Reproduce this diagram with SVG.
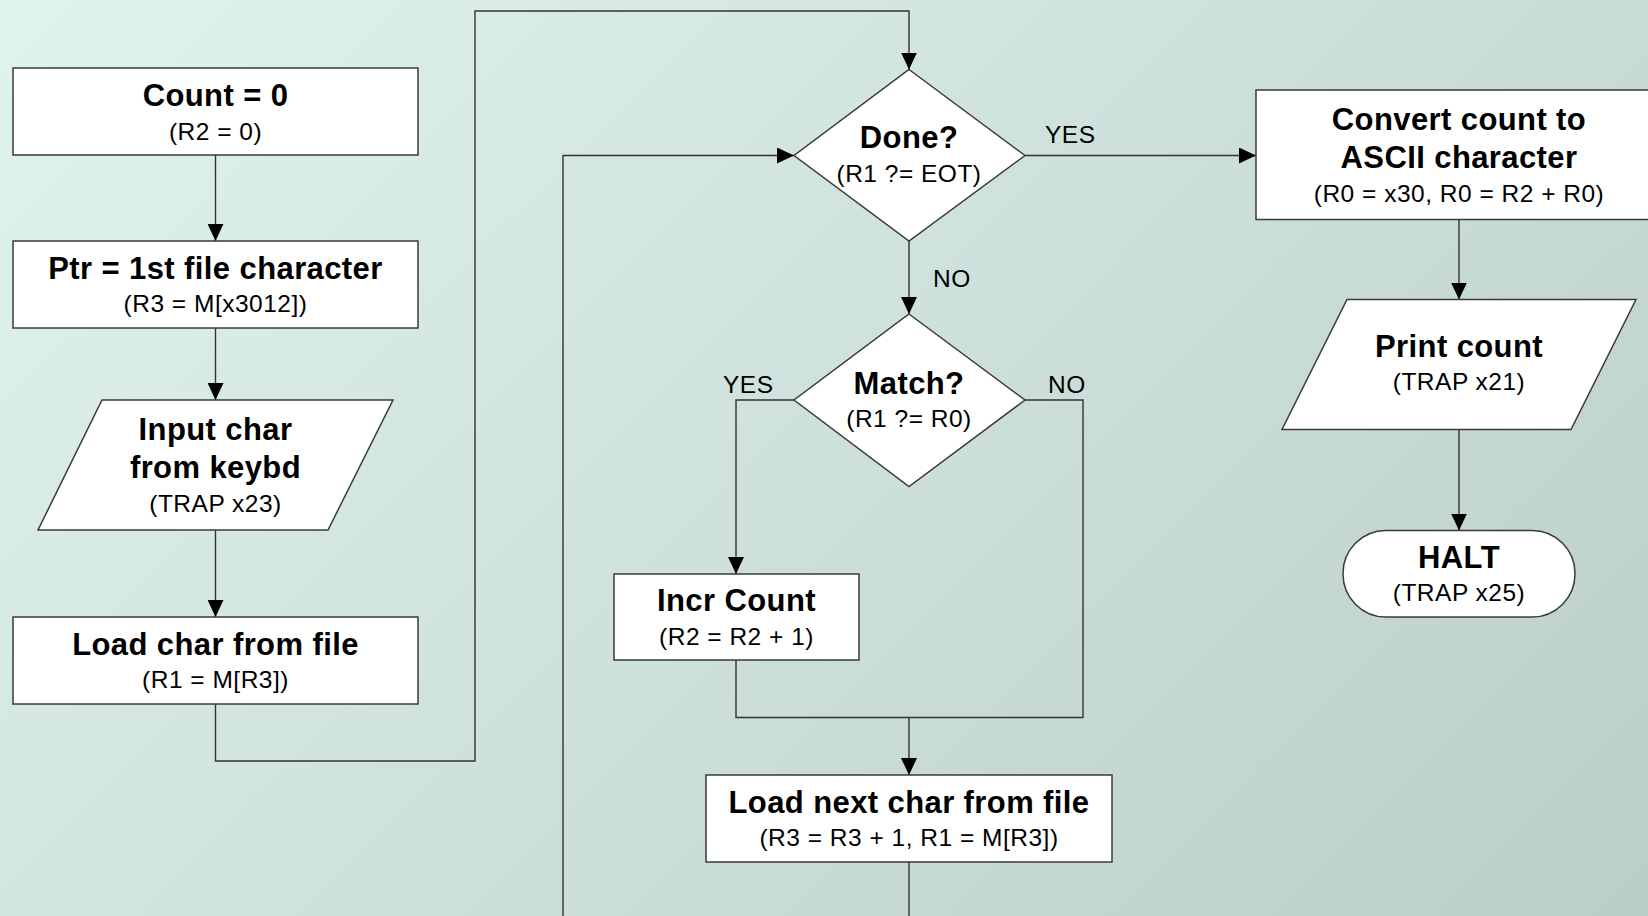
<svg xmlns="http://www.w3.org/2000/svg" width="1648" height="916" viewBox="0 0 1648 916">
  <defs>
    <linearGradient id="bg" gradientUnits="userSpaceOnUse" x1="0" y1="0" x2="1300" y2="1300">
      <stop offset="0" stop-color="#E1F3EF"/>
      <stop offset="1" stop-color="#BACDC8"/>
    </linearGradient>
    <marker id="arrow" viewBox="0 0 17 16" refX="17" refY="8" markerWidth="17" markerHeight="16" markerUnits="userSpaceOnUse" orient="auto">
      <path d="M0,0 L17,8 L0,16 Z" fill="#000"/>
    </marker>
    <style>
      .shape { fill: #FFFFFF; stroke: #3A3A3A; stroke-width: 1.5; }
      .conn { fill: none; stroke: #333333; stroke-width: 1.4; }
      .arr { marker-end: url(#arrow); }
      .title { font-family: "Liberation Sans", Arial, sans-serif; font-weight: bold; font-size: 31px; letter-spacing: 0.4px; fill: #000; text-anchor: middle; }
      .sub { font-family: "Liberation Sans", Arial, sans-serif; font-size: 24.5px; letter-spacing: 0.5px; fill: #000; text-anchor: middle; }
      .lbl { font-family: "Liberation Sans", Arial, sans-serif; font-size: 24.5px; letter-spacing: 0.5px; fill: #000; }
    </style>
  </defs>

  <rect x="0" y="0" width="1648" height="916" fill="url(#bg)"/>

  <!-- connectors -->
  <g id="connectors">
    <path class="conn arr" d="M215.5,155 V241"/>
    <path class="conn arr" d="M215.5,328 V400"/>
    <path class="conn arr" d="M215.5,530 V617"/>
    <path class="conn arr" d="M215.5,704 V761 H475 V11 H909 V69.5"/>
    <path class="conn arr" d="M1025,155.5 H1256"/>
    <path class="conn arr" d="M909,241 V314"/>
    <path class="conn arr" d="M794,400 H736 V574"/>
    <path class="conn" d="M736,660 V717.5 H1083 V400 H1025"/>
    <path class="conn arr" d="M909,717.5 V775"/>
    <path class="conn" d="M909,862 V920"/>
    <path class="conn arr" d="M563,920 V155.5 H794"/>
    <path class="conn arr" d="M1459,219.5 V299.5"/>
    <path class="conn arr" d="M1459,429.5 V530.5"/>
    <text class="lbl" x="1045" y="143">YES</text>
    <text class="lbl" x="933" y="287">NO</text>
    <text class="lbl" x="723" y="393">YES</text>
    <text class="lbl" x="1048" y="393">NO</text>
  </g>

  <g id="count">
    <rect class="shape" x="13" y="68" width="405" height="87"/>
    <text class="title" x="215.5" y="106">Count = 0</text>
    <text class="sub" x="215.5" y="140">(R2 = 0)</text>
  </g>

  <g id="ptr">
    <rect class="shape" x="13" y="241" width="405" height="87"/>
    <text class="title" x="215.5" y="279">Ptr = 1st file character</text>
    <text class="sub" x="215.5" y="312">(R3 = M[x3012])</text>
  </g>

  <g id="input">
    <path class="shape" d="M102,400 H393 L328,530 H38 Z"/>
    <text class="title" x="215.5" y="440">Input char</text>
    <text class="title" x="215.5" y="478">from keybd</text>
    <text class="sub" x="215.5" y="512">(TRAP x23)</text>
  </g>

  <g id="loadchar">
    <rect class="shape" x="13" y="617" width="405" height="87"/>
    <text class="title" x="215.5" y="655">Load char from file</text>
    <text class="sub" x="215.5" y="688">(R1 = M[R3])</text>
  </g>

  <g id="done">
    <path class="shape" d="M909,69.5 L1025,155.5 L909,241 L794,155.5 Z"/>
    <text class="title" x="909" y="148">Done?</text>
    <text class="sub" x="909" y="182">(R1 ?= EOT)</text>
  </g>

  <g id="match">
    <path class="shape" d="M909,314 L1025,400 L909,486.5 L794,400 Z"/>
    <text class="title" x="909" y="394">Match?</text>
    <text class="sub" x="909" y="427">(R1 ?= R0)</text>
  </g>

  <g id="incr">
    <rect class="shape" x="614" y="574" width="245" height="86"/>
    <text class="title" x="736.5" y="611">Incr Count</text>
    <text class="sub" x="736.5" y="645">(R2 = R2 + 1)</text>
  </g>

  <g id="loadnext">
    <rect class="shape" x="706" y="775" width="406" height="87"/>
    <text class="title" x="909" y="813">Load next char from file</text>
    <text class="sub" x="909" y="846">(R3 = R3 + 1, R1 = M[R3])</text>
  </g>

  <g id="convert">
    <rect class="shape" x="1256" y="90" width="406" height="129.5"/>
    <text class="title" x="1459" y="130">Convert count to</text>
    <text class="title" x="1459" y="168">ASCII character</text>
    <text class="sub" x="1459" y="202">(R0 = x30, R0 = R2 + R0)</text>
  </g>

  <g id="print">
    <path class="shape" d="M1347,299.5 H1636 L1571,429.5 H1282 Z"/>
    <text class="title" x="1459" y="357">Print count</text>
    <text class="sub" x="1459" y="390">(TRAP x21)</text>
  </g>

  <g id="halt">
    <rect class="shape" x="1343" y="530.5" width="232" height="86.5" rx="43" ry="43"/>
    <text class="title" x="1459" y="568">HALT</text>
    <text class="sub" x="1459" y="601">(TRAP x25)</text>
  </g>
</svg>
